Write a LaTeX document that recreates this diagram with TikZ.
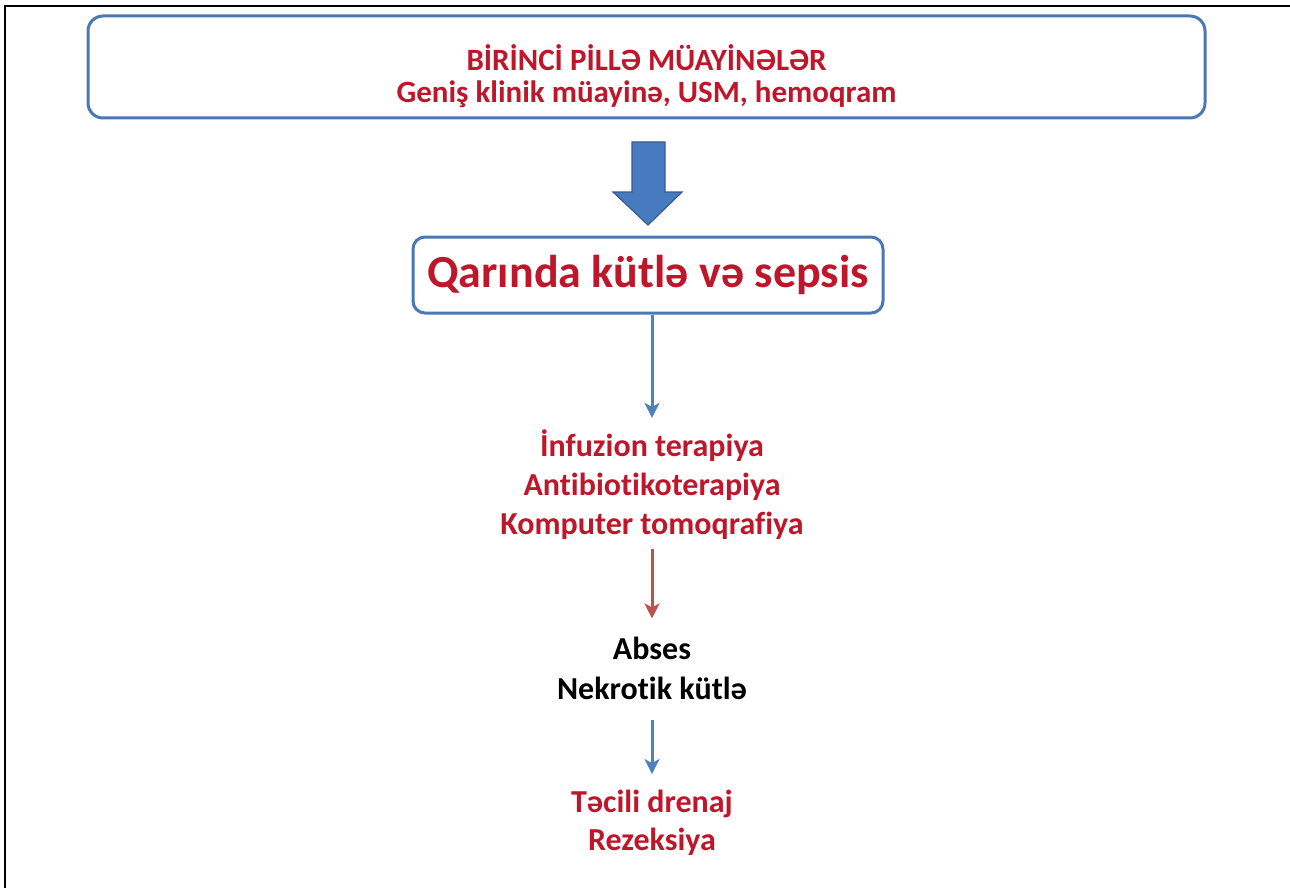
\documentclass[tikz,border=0pt]{standalone}
\usepackage{fontspec}
\setmainfont{Carlito}[Ligatures={NoCommon}]
\usetikzlibrary{arrows.meta}
\definecolor{txtred}{RGB}{190,22,42}
\definecolor{boxblue}{RGB}{74,120,180}
\definecolor{arrblue}{RGB}{72,122,192}
\definecolor{arrblueedge}{RGB}{52,92,145}
\definecolor{linkblue}{RGB}{79,129,189}
\definecolor{linkred}{RGB}{192,80,77}
\tikzset{
  roundbox/.style={draw=boxblue, line width=3pt, fill=white, align=center, text=txtred},
  stagetext/.style={align=center, inner sep=0pt, font={\bfseries\fontsize{32}{39}\selectfont}},
  bluelink/.style={draw=linkblue, line width=3pt, -{Stealth[length=15pt,width=15pt,inset=4pt]}},
  redlink/.style={draw=linkred, line width=3pt, -{Stealth[length=15pt,width=15pt,inset=4pt]}},
}
\begin{document}
\begin{tikzpicture}[x=1pt,y=-1pt]
\useasboundingbox (0,0) rectangle (1290,888);
% frame
\draw[line width=2pt] (5,888) -- (5,6) -- (1290,6);
% top box
\node[roundbox, rounded corners=15pt, minimum width=1117pt, minimum height=102pt,
      text height=77pt,
      font={\bfseries\fontsize{31}{32}\selectfont}] (b1) at (646.5,67)
  {BİRİNCİ PİLLƏ MÜAYİNƏLƏR\\Geniş klinik müayinə, USM, hemoqram};
% second box
\node[roundbox, rounded corners=12pt, minimum width=470pt, minimum height=76pt,
      font={\bfseries\fontsize{46}{50}\selectfont}] (b2) at (648,275)
  {Qarında kütlə və sepsis};
% block arrow
\draw[fill=arrblue, draw=arrblueedge, line width=1.2pt]
  (632,142) -- (665,142) -- (665,192) -- (682,192) -- (648,225) -- (613,192) -- (632,192) -- cycle;
% text stages
\node[stagetext, text=txtred] (t1) at (652,485)
  {İnfuzion terapiya\\Antibiotikoterapiya\\Komputer tomoqrafiya};
\node[stagetext, text=black, font={\bfseries\fontsize{32}{40}\selectfont}] (t2) at (652,668)
  {Abses\\Nekrotik kütlə};
\node[stagetext, text=txtred, font={\bfseries\fontsize{32}{38}\selectfont}] (t3) at (652,823)
  {Təcili drenaj\\Rezeksiya};
% connectors
\draw[bluelink] (b2.south -| t1) -- ([yshift=12pt]t1.north);
\draw[redlink] ([yshift=-9pt]t1.south) -- ([yshift=18pt]t2.north);
\draw[bluelink] ([yshift=-20pt]t2.south) -- ([yshift=16pt]t3.north);
\end{tikzpicture}
\end{document}
